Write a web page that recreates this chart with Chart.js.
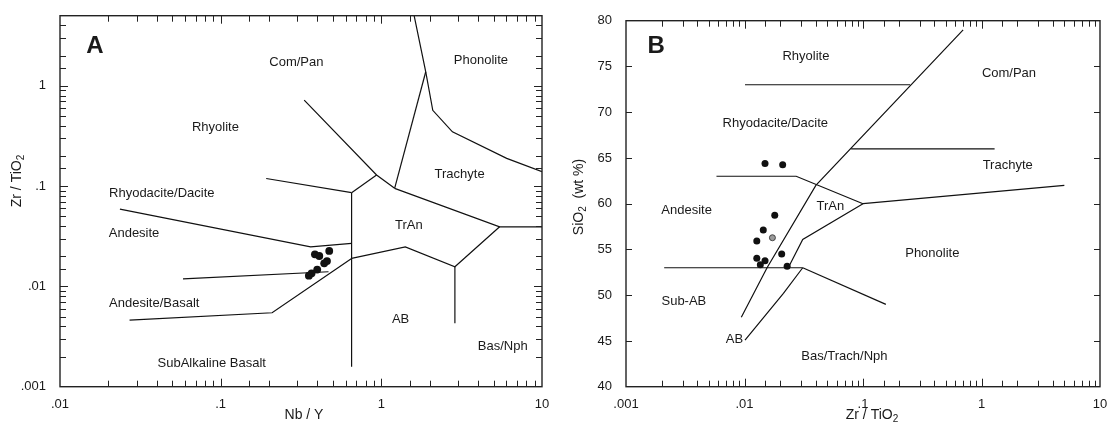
<!DOCTYPE html>
<html lang="en">
<head>
<meta charset="UTF-8">
<title>Nb/Y and SiO2 vs Zr/TiO2 classification</title>
<script src="https://cdn.jsdelivr.net/npm/chart.js"></script>
<style>
  body { margin: 0; background: #fff; }
  .wrap { position: relative; width: 1107px; height: 423px; overflow: hidden; background: #fff; }
  canvas { position: absolute; top: 0; }
  #chartA { left: 0; }
  #chartB { left: 560px; }
</style>
</head>
<body>
<div class="wrap">
  <canvas id="chartA" width="560" height="423"></canvas>
  <canvas id="chartB" width="547" height="423"></canvas>
</div>
<script>
// ---- panel A : Zr/TiO2 vs Nb/Y ----
const nbY   = [0.386, 0.411, 0.474, 0.441, 0.459, 0.399, 0.368, 0.354];
const zrTiA = [0.0209, 0.0201, 0.0226, 0.0170, 0.0179, 0.0147, 0.0135, 0.0128];
const xLabelsA = [0.01, 0.1, 1, 10];
const yLabelsA = [0.001, 0.01, 0.1, 1];

// field boundaries, each a polyline of [Nb/Y, Zr/TiO2]
const fieldLinesA = [
  [[1.6, 5], [1.89, 1.38], [2.09, 0.57], [2.77, 0.348], [6.03, 0.189], [10, 0.139]],
  [[1.21, 0.095], [1.89, 1.38]],
  [[0.331, 0.72], [0.934, 0.129], [1.21, 0.095]],
  [[0.653, 0.086], [0.934, 0.129]],
  [[0.653, 0.086], [0.653, 0.00158]],
  [[0.192, 0.119], [0.653, 0.086]],
  [[1.21, 0.095], [5.45, 0.0393], [10, 0.0393]],
  [[0.653, 0.019], [1.41, 0.0248], [2.87, 0.0157], [5.45, 0.0393]],
  [[2.87, 0.0157], [2.87, 0.00428]],
  [[0.0236, 0.059], [0.363, 0.0248], [0.653, 0.0268]],
  [[0.0583, 0.0119], [0.469, 0.014]],
  [[0.0271, 0.00462], [0.209, 0.00546], [0.653, 0.019]]
];
const fieldNamesA = ['Com/Pan', 'Phonolite', 'Rhyolite', 'Trachyte', 'Rhyodacite/Dacite', 'TrAn',
  'Andesite', 'Andesite/Basalt', 'AB', 'Bas/Nph', 'SubAlkaline Basalt'];
const fieldXA = [0.296, 4.17, 0.0927, 3.07, 0.043, 1.485, 0.0289, 0.0386, 1.318, 5.70, 0.088];
const fieldYA = [1.72, 1.80, 0.384, 0.1315, 0.085, 0.041, 0.0339, 0.00678, 0.0047, 0.0025, 0.00171];

// ---- panel B : SiO2 vs Zr/TiO2 ----
const zrTiB = [0.0149, 0.021, 0.018, 0.0144, 0.0127, 0.0127, 0.0149, 0.0136, 0.0206, 0.0229];
const sio2  = [64.4, 64.26, 58.73, 57.13, 55.92, 54.03, 53.77, 53.33, 54.5, 53.16];
const zrTiGrey = [0.0172];
const sio2Grey = [56.28];
const xLabelsB = [0.001, 0.01, 0.1, 1, 10];

const fieldLinesB = [
  [[0.0101, 73], [0.25, 73]],
  [[0.70, 79], [0.04, 62], [0.0155, 53], [0.0094, 47.6]],
  [[0.0794, 66], [1.29, 66]],
  [[0.0058, 63], [0.0273, 63], [0.1, 60]],
  [[0.1, 60], [5, 62]],
  [[0.1, 60], [0.031, 56.1], [0.0234, 53]],
  [[0.0021, 53], [0.031, 53]],
  [[0.031, 53], [0.156, 49]],
  [[0.031, 53], [0.0213, 50.2], [0.0101, 45.1]]
];
const fieldNamesB = ['Rhyolite', 'Com/Pan', 'Rhyodacite/Dacite', 'Trachyte', 'TrAn', 'Andesite',
  'Phonolite', 'Sub-AB', 'AB', 'Bas/Trach/Nph'];
const fieldXB = [0.033, 1.706, 0.0182, 1.663, 0.0531, 0.00325, 0.3846, 0.00308, 0.00824, 0.0697];
const fieldYB = [76.07, 74.25, 68.79, 64.23, 59.75, 59.23, 54.58, 49.29, 45.21, 43.28];

const FONT = '"Liberation Sans", Arial, Helvetica, sans-serif';
const INK = '#1a1a1a';

function fmt(v) { return String(v).replace(/^0\./, '.'); }
function isPow10(v) { const l = Math.log10(v); return Math.abs(l - Math.round(l)) < 1e-6; }
function labelIf(list) {
  return v => list.some(t => Math.abs(t - v) / t < 1e-6) ? fmt(v) : '';
}

function lineSets(lines) {
  return lines.map(l => ({
    data: l.map(p => ({ x: p[0], y: p[1] })),
    showLine: true, borderColor: '#111', borderWidth: 1.2,
    pointRadius: 0, fill: false, tension: 0
  }));
}

// draws the frame, inward ticks on all sides, field names, axis titles, panel letter
function decor(spec) {
  return {
    id: 'decor',
    afterDraw(chart) {
      const { ctx, chartArea: a } = chart;
      const sx = chart.scales.x, sy = chart.scales.y;
      ctx.save();
      ctx.strokeStyle = '#222';
      ctx.lineWidth = 1;
      ctx.beginPath();
      sx.ticks.forEach(t => {
        const p = Math.round(sx.getPixelForValue(t.value)) + 0.5;
        if (p <= a.left + 1 || p >= a.right - 1) return;
        const len = isPow10(t.value) ? 8 : 6;
        ctx.moveTo(p, a.bottom); ctx.lineTo(p, a.bottom - len);
        ctx.moveTo(p, a.top); ctx.lineTo(p, a.top + len);
      });
      sy.ticks.forEach(t => {
        const p = Math.round(sy.getPixelForValue(t.value)) + 0.5;
        if (p <= a.top + 1 || p >= a.bottom - 1) return;
        const len = spec.yLog && isPow10(t.value) ? 8 : 6;
        ctx.moveTo(a.left, p); ctx.lineTo(a.left + len, p);
        ctx.moveTo(a.right, p); ctx.lineTo(a.right - len, p);
      });
      ctx.stroke();
      ctx.lineWidth = 1.4;
      ctx.strokeRect(a.left, a.top, a.right - a.left, a.bottom - a.top);

      ctx.fillStyle = INK;
      ctx.textAlign = 'center';
      ctx.textBaseline = 'middle';
      ctx.font = '13px ' + FONT;
      spec.names.forEach((n, i) => {
        ctx.fillText(n, sx.getPixelForValue(spec.nx[i]), sy.getPixelForValue(spec.ny[i]));
      });
      ctx.font = 'bold 24px ' + FONT;
      ctx.fillText(spec.letter, sx.getPixelForValue(spec.letterAt[0]), sy.getPixelForValue(spec.letterAt[1]));

      drawRich(ctx, spec.xTitle, spec.xTitleAt[0], spec.xTitleAt[1], 0);
      drawRich(ctx, spec.yTitle, spec.yTitleAt[0], spec.yTitleAt[1], -Math.PI / 2);
      ctx.restore();
    }
  };
}

// text with subscript pieces, centred on (x, y)
function drawRich(ctx, parts, x, y, rot) {
  const main = '14px ' + FONT, sub = '10px ' + FONT;
  let w = 0;
  parts.forEach(p => { ctx.font = p.sub ? sub : main; w += ctx.measureText(p.t).width; });
  ctx.save();
  ctx.translate(x, y);
  ctx.rotate(rot);
  ctx.textAlign = 'left';
  ctx.textBaseline = 'middle';
  let cx = -w / 2;
  parts.forEach(p => {
    ctx.font = p.sub ? sub : main;
    ctx.fillText(p.t, cx, p.sub ? 4 : 0);
    cx += ctx.measureText(p.t).width;
  });
  ctx.restore();
}

function axis(type, min, max, cb, size, padding) {
  return {
    type, min, max,
    grid: { display: false, drawTicks: false },
    border: { display: false },
    ticks: { autoSkip: false, maxRotation: 0, padding, color: INK, font: { family: FONT, size: 13 }, callback: cb },
    afterFit: s => {
      if (s.isHorizontal()) s.height = size; else s.width = size;
      // let edge labels spill over instead of shrinking the plot
      s.paddingLeft = 0; s.paddingRight = 0; s.paddingTop = 0; s.paddingBottom = 0;
    }
  };
}

new Chart(document.getElementById('chartA'), {
  type: 'scatter',
  data: {
    datasets: [{
      data: nbY.map((x, i) => ({ x, y: zrTiA[i] })),
      backgroundColor: '#111', borderColor: '#111', borderWidth: 0, pointRadius: 3.9
    }].concat(lineSets(fieldLinesA))
  },
  options: {
    responsive: false, animation: false,
    layout: { padding: { left: 0, right: 18, top: 15.7, bottom: 0 } },
    plugins: { legend: { display: false }, tooltip: { enabled: false } },
    scales: {
      x: axis('logarithmic', 0.01, 10, labelIf(xLabelsA), 36.3, 10),
      y: axis('logarithmic', 0.001, 5, labelIf(yLabelsA), 60, 14)
    }
  },
  plugins: [decor({
    yLog: true,
    names: fieldNamesA, nx: fieldXA, ny: fieldYA,
    letter: 'A', letterAt: [0.0165, 2.47],
    xTitle: [{ t: 'Nb / Y' }], xTitleAt: [304, 415],
    yTitle: [{ t: 'Zr / TiO' }, { t: '2', sub: true }], yTitleAt: [17, 181]
  })]
});

new Chart(document.getElementById('chartB'), {
  type: 'scatter',
  data: {
    datasets: [{
      data: zrTiB.map((x, i) => ({ x, y: sio2[i] })),
      backgroundColor: '#111', borderColor: '#111', borderWidth: 0, pointRadius: 3.5
    }, {
      data: zrTiGrey.map((x, i) => ({ x, y: sio2Grey[i] })),
      backgroundColor: '#9a9a9a', borderColor: '#444', borderWidth: 1, pointRadius: 3
    }].concat(lineSets(fieldLinesB))
  },
  options: {
    responsive: false, animation: false,
    layout: { padding: { left: 0, right: 7, top: 20.7, bottom: 0 } },
    plugins: { legend: { display: false }, tooltip: { enabled: false } },
    scales: {
      x: axis('logarithmic', 0.001, 10, labelIf(xLabelsB), 36.3, 10),
      y: axis('linear', 40, 80, v => String(v), 66, 14)
    }
  },
  plugins: [decor({
    yLog: false,
    names: fieldNamesB, nx: fieldXB, ny: fieldYB,
    letter: 'B', letterAt: [0.0018, 77.16],
    xTitle: [{ t: 'Zr / TiO' }, { t: '2', sub: true }], xTitleAt: [312, 415],
    yTitle: [{ t: 'SiO' }, { t: '2', sub: true }, { t: '  (wt %)' }], yTitleAt: [19, 197]
  })]
});
</script>
</body>
</html>
